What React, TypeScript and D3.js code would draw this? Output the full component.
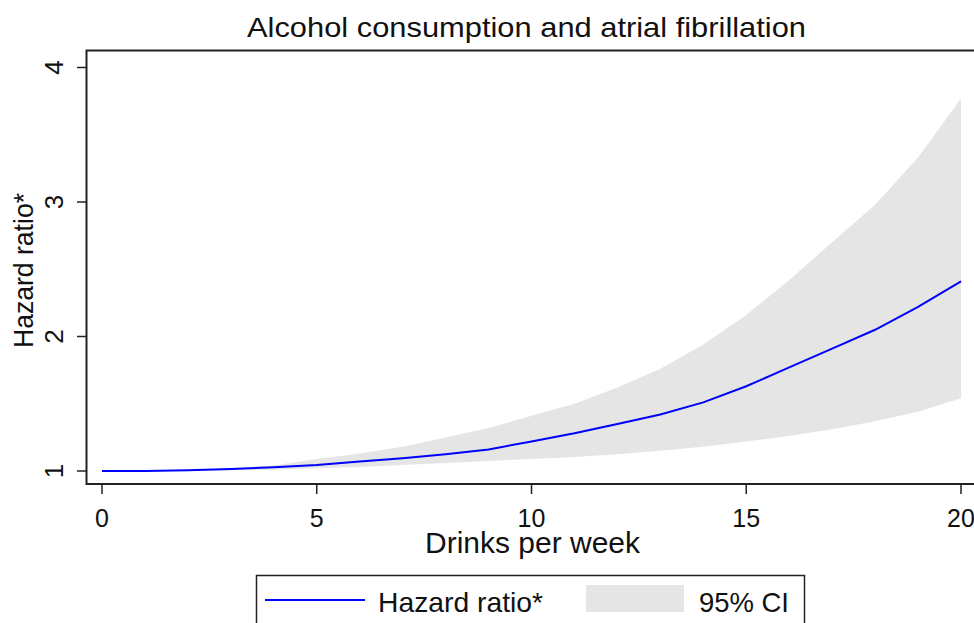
import React from "react";
import * as d3 from "d3";

const drinks = [0, 1, 2, 3, 4, 5, 6, 7, 8, 9, 10, 11, 12, 13, 14, 15, 16, 17, 18, 19, 20];
const hazardRatio = [1.0, 1.0, 1.005, 1.015, 1.028, 1.045, 1.07, 1.095, 1.125, 1.16, 1.22, 1.28, 1.35, 1.42, 1.51, 1.63, 1.77, 1.91, 2.05, 2.22, 2.41];
const ciUpper = [1.0, 1.0, 1.0, 1.02, 1.04, 1.09, 1.13, 1.18, 1.25, 1.32, 1.41, 1.5, 1.62, 1.76, 1.94, 2.16, 2.42, 2.7, 2.98, 3.33, 3.77];
const ciLower = [1.0, 1.0, 1.0, 1.005, 1.01, 1.02, 1.03, 1.045, 1.06, 1.075, 1.09, 1.105, 1.125, 1.15, 1.18, 1.22, 1.26, 1.31, 1.37, 1.44, 1.54];
const xTicks = [0, 5, 10, 15, 20];
const yTicks = [1, 2, 3, 4];

export default function App() {
  const W = 974, H = 623;
  const x = d3.scaleLinear().domain([0, 20]).range([102, 961]);
  const y = d3.scaleLinear().domain([1, 4]).range([471, 67.5]);
  const frameL = 86.5, frameT = 50.5, frameB = 484, frameR = 990;
  const font = "'Liberation Sans', Arial, sans-serif";

  const area = d3.area<number>()
    .x((_, i) => x(drinks[i]))
    .y0((_, i) => y(ciLower[i]))
    .y1((_, i) => y(ciUpper[i]));
  const line = d3.line<number>()
    .x((_, i) => x(drinks[i]))
    .y((d) => y(d));

  return (
    <svg width={W} height={H} style={{ position: "absolute", left: 0, top: 0, background: "#fff" }}>
      <rect x={0} y={0} width={W} height={H} fill="#fff" />
      <path d={area(drinks) || ""} fill="#e5e5e5" />
      <path d={line(hazardRatio) || ""} fill="none" stroke="#0000ff" strokeWidth={2} />
      <rect x={frameL} y={frameT} width={frameR - frameL} height={frameB - frameT} fill="none" stroke="#222" strokeWidth={2} />
      {yTicks.map((t) => (
        <g key={"y" + t}>
          <line x1={77} x2={frameL} y1={y(t)} y2={y(t)} stroke="#222" strokeWidth={1.5} />
          <text
            transform={`translate(${63},${y(t)}) rotate(-90)`}
            textAnchor="middle"
            fontFamily={font}
            fontSize={26}
            fill="#111"
          >
            {t}
          </text>
        </g>
      ))}
      {xTicks.map((t) => (
        <g key={"x" + t}>
          <line x1={x(t)} x2={x(t)} y1={frameB} y2={494} stroke="#222" strokeWidth={1.5} />
          <text x={x(t)} y={527} textAnchor="middle" fontFamily={font} fontSize={25} fill="#111">
            {t}
          </text>
        </g>
      ))}
      <text x={526.5} y={37} textAnchor="middle" fontFamily={font} fontSize={28} textLength={559} lengthAdjust="spacingAndGlyphs" fill="#111">
        Alcohol consumption and atrial fibrillation
      </text>
      <text x={532.5} y={553} textAnchor="middle" fontFamily={font} fontSize={29} textLength={215} lengthAdjust="spacingAndGlyphs" fill="#111">
        Drinks per week
      </text>
      <text transform={`translate(${33},${270.5}) rotate(-90)`} textAnchor="middle" fontFamily={font} fontSize={28} textLength={155} lengthAdjust="spacingAndGlyphs" fill="#111">
        Hazard ratio*
      </text>
      <rect x={256.5} y={575.5} width={548} height={70} fill="#fff" stroke="#222" strokeWidth={1.5} />
      <line x1={265} x2={365} y1={600} y2={600} stroke="#0000ff" strokeWidth={2} />
      <text x={378} y={612} fontFamily={font} fontSize={28} textLength={165} lengthAdjust="spacingAndGlyphs" fill="#111">Hazard ratio*</text>
      <rect x={586} y={585} width={98} height={27} fill="#e5e5e5" />
      <text x={699} y={612} fontFamily={font} fontSize={28} textLength={90} lengthAdjust="spacingAndGlyphs" fill="#111">95% CI</text>
    </svg>
  );
}
